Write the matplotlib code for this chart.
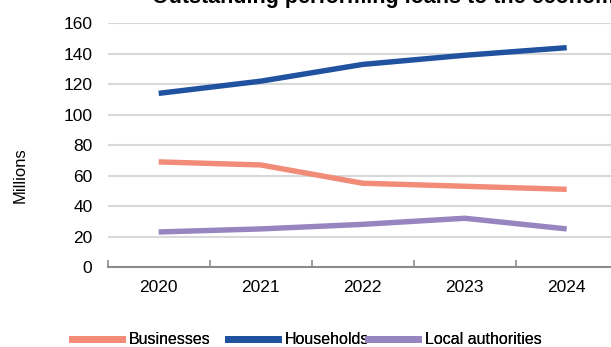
import matplotlib
matplotlib.use("Agg")
import matplotlib.pyplot as plt
from matplotlib.lines import Line2D

plt.rcParams['font.family'] = ['Liberation Sans', 'DejaVu Sans']

years = ["2020", "2021", "2022", "2023", "2024"]
businesses = [69, 67, 55, 53, 51]
households = [114, 122, 133, 139, 144]
local_authorities = [23, 25, 28, 32, 25]
y_ticks = [0, 20, 40, 60, 80, 100, 120, 140, 160]

series = [
    ("Businesses", businesses, "#F28B78"),
    ("Households", households, "#2052A0"),
    ("Local authorities", local_authorities, "#9785BF"),
]

fig = plt.figure(figsize=(6.11, 3.47), dpi=100)
ax = fig.add_axes([107.7 / 611, 1 - 267 / 347, 510 / 611, (267 - 23.3) / 347])

x = list(range(len(years)))
handles = []
for name, vals, col in series:
    (ln,) = ax.plot(x, vals, color=col, lw=3.9, solid_capstyle="butt", label=name, zorder=3)
    handles.append(ln)

ax.set_xlim(-0.5, len(years) - 0.5)
ax.set_ylim(0, 160)
ax.set_yticks(y_ticks)
ax.set_yticklabels([str(v) for v in y_ticks], fontsize=12.5)
ax.set_xticks(x)
ax.set_xticklabels(years, fontsize=12.5)
ax.tick_params(axis="y", length=0, pad=11)
ax.tick_params(axis="x", length=0, pad=9)

# category boundary ticks on the horizontal axis
ax.set_xticks([i - 0.5 for i in range(len(years) + 1)], minor=True)
ax.tick_params(axis="x", which="minor", direction="in", length=5, width=1.2, color="#8c8c8c")

ax.grid(axis="y", color="#d9d9d9", lw=1.5, zorder=0)
for s in ["top", "right", "left"]:
    ax.spines[s].set_visible(False)
ax.spines["bottom"].set_color("#8c8c8c")
ax.spines["bottom"].set_linewidth(1.5)
ax.spines["bottom"].set_zorder(2)

fig.text(20 / 611, 1 - 175 / 347, "Millions", rotation=90, ha="center", va="center", fontsize=12)
fig.text(152 / 611, 1 - 2.5 / 347, "Outstanding performing loans to the economy",
         ha="left", va="baseline", fontsize=15.5, fontweight="bold")

# one legend entry per series, laid out along the bottom
legend_x = [72, 228, 368]
for h, lx in zip(handles, legend_x):
    proxy = Line2D([], [], color=h.get_color(), lw=5)
    leg = fig.legend([proxy], [h.get_label()], loc="center left",
                     bbox_to_anchor=(lx / 611, 1 - 340 / 347), frameon=False,
                     fontsize=11.5, handlelength=3.1, handletextpad=0.45,
                     borderpad=0, borderaxespad=0)
    fig.add_artist(leg)

fig.savefig("out.png", dpi=100)
